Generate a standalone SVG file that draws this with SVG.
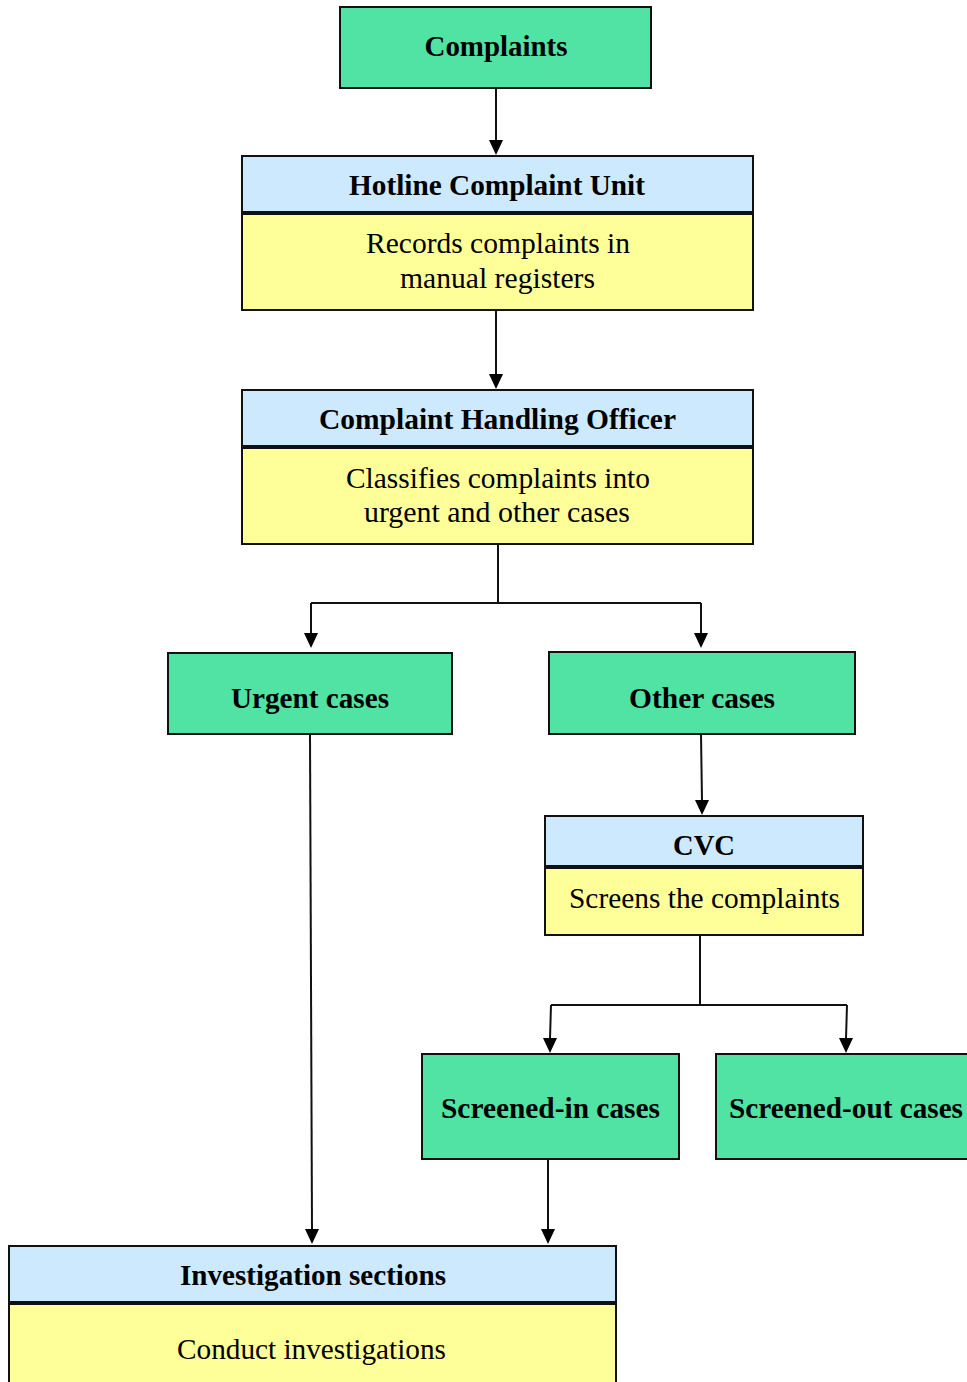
<svg xmlns="http://www.w3.org/2000/svg" width="967" height="1382" viewBox="0 0 967 1382">
<style>
.g{fill:#50E3A4;stroke:#111;stroke-width:2}
.b{fill:#CCE9FE;stroke:#111;stroke-width:2}
.y{fill:#FFFF99;stroke:#111;stroke-width:2}
.tb{font-family:"Liberation Serif","DejaVu Serif",serif;font-weight:bold;font-size:29px;fill:#000;text-anchor:middle}
.tn{font-family:"Liberation Serif","DejaVu Serif",serif;font-size:29px;fill:#000;text-anchor:middle}
.c{fill:none;stroke:#111;stroke-width:2}
</style>
<rect width="967" height="1382" fill="#fff"/>
<g id="connectors">
<path class="c" d="M496,88 V141"/><path d="M489,140 H503 L496,155 Z"/>
<path class="c" d="M496,310 V375"/><path d="M489,374 H503 L496,389 Z"/>
<path class="c" d="M498,544 V603 M311,603 H701 M311,603 V634 M701,603 V634"/>
<path d="M304,633 H318 L311,648 Z"/><path d="M694,633 H708 L701,648 Z"/>
<path class="c" d="M701,734 L702,801"/><path d="M695,800 H709 L702,815 Z"/>
<path class="c" d="M700,935 V1005 M551,1005 H847 M551,1005 L550,1039 M847,1005 L846,1039"/>
<path d="M543,1038 H557 L550,1053 Z"/><path d="M839,1038 H853 L846,1053 Z"/>
<path class="c" d="M310,734 L312,1230"/><path d="M305,1229 H319 L312,1244 Z"/>
<path class="c" d="M548,1159 V1230"/><path d="M541,1229 H555 L548,1244 Z"/>
</g>
<g id="complaints">
<rect class="g" x="340" y="7" width="311" height="81"/>
<text class="tb" x="496" y="56" textLength="143" lengthAdjust="spacingAndGlyphs">Complaints</text>
</g>
<g id="hotline">
<rect class="b" x="242" y="156" width="511" height="56"/>
<rect class="y" x="242" y="214" width="511" height="96"/>
<text class="tb" x="497" y="195" textLength="296" lengthAdjust="spacingAndGlyphs">Hotline Complaint Unit</text>
<text class="tn" x="498" y="253" textLength="264" lengthAdjust="spacingAndGlyphs">Records complaints in</text>
<text class="tn" x="497.5" y="288" textLength="195" lengthAdjust="spacingAndGlyphs">manual registers</text>
</g>
<g id="cho">
<rect class="b" x="242" y="390" width="511" height="56"/>
<rect class="y" x="242" y="448" width="511" height="96"/>
<text class="tb" x="497.5" y="429" textLength="357" lengthAdjust="spacingAndGlyphs">Complaint Handling Officer</text>
<text class="tn" x="498" y="488" textLength="304" lengthAdjust="spacingAndGlyphs">Classifies complaints into</text>
<text class="tn" x="497" y="522" textLength="266" lengthAdjust="spacingAndGlyphs">urgent and other cases</text>
</g>
<g id="urgent">
<rect class="g" x="168" y="653" width="284" height="81"/>
<text class="tb" x="310" y="708" textLength="158" lengthAdjust="spacingAndGlyphs">Urgent cases</text>
</g>
<g id="other">
<rect class="g" x="549" y="652" width="306" height="82"/>
<text class="tb" x="702" y="708" textLength="146" lengthAdjust="spacingAndGlyphs">Other cases</text>
</g>
<g id="cvc">
<rect class="b" x="545" y="816" width="318" height="50"/>
<rect class="y" x="545" y="868" width="318" height="67"/>
<text class="tb" x="704" y="855" textLength="62" lengthAdjust="spacingAndGlyphs">CVC</text>
<text class="tn" x="704.5" y="908" textLength="271" lengthAdjust="spacingAndGlyphs">Screens the complaints</text>
</g>
<g id="screened-in">
<rect class="g" x="422" y="1054" width="257" height="105"/>
<text class="tb" x="550.5" y="1118" textLength="219" lengthAdjust="spacingAndGlyphs">Screened-in cases</text>
</g>
<g id="screened-out">
<rect class="g" x="716" y="1054" width="260" height="105"/>
<text class="tb" x="846" y="1118" textLength="234" lengthAdjust="spacingAndGlyphs">Screened-out cases</text>
</g>
<g id="investigation">
<rect class="b" x="9" y="1246" width="607" height="56"/>
<rect class="y" x="9" y="1304" width="607" height="90"/>
<text class="tb" x="313" y="1285" textLength="266" lengthAdjust="spacingAndGlyphs">Investigation sections</text>
<text class="tn" x="311.5" y="1359" textLength="269" lengthAdjust="spacingAndGlyphs">Conduct investigations</text>
</g>
</svg>
